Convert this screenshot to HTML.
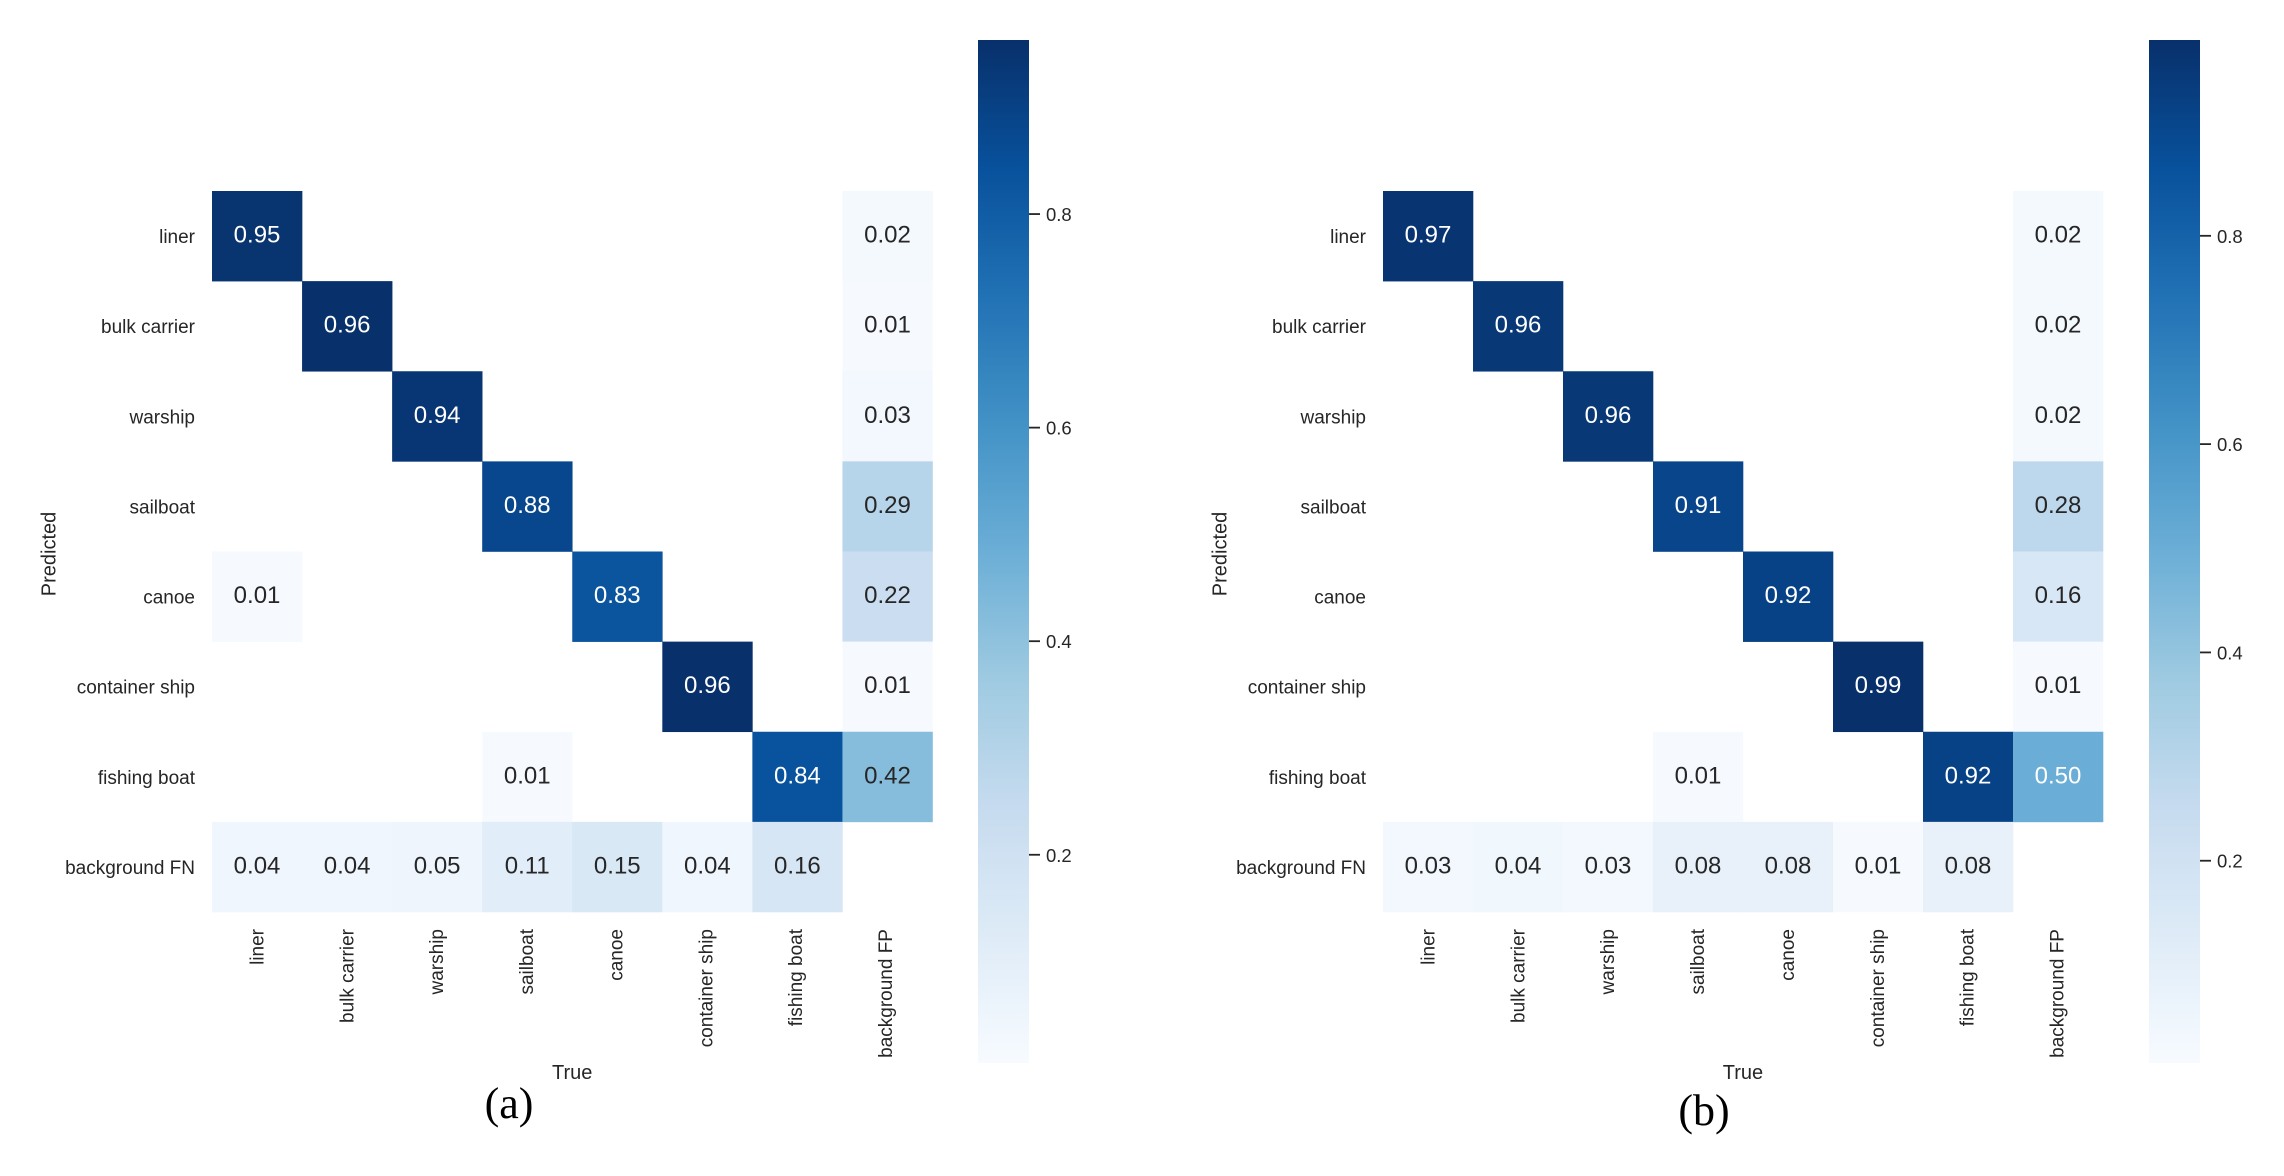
<!DOCTYPE html>
<html lang="en">
<head>
<meta charset="utf-8">
<title>Confusion matrices (a) and (b)</title>
<style>
html,body{margin:0;padding:0;background:#fff;}
body{width:2284px;height:1176px;overflow:hidden;}
svg{display:block;}
text{font-family:"Liberation Sans",Arial,sans-serif;fill:#262626;}
</style>
</head>
<body>
<svg id="chart" xmlns="http://www.w3.org/2000/svg" width="2284" height="1176" viewBox="0 0 2284 1176">
<rect width="2284" height="1176" fill="#ffffff"></rect>
</svg>
<script>
const trueCategories = ["liner","bulk carrier","warship","sailboat","canoe","container ship","fishing boat","background FP"];
const predictedCategories = ["liner","bulk carrier","warship","sailboat","canoe","container ship","fishing boat","background FN"];
const matrixA = [
  [0.95,null,null,null,null,null,null,0.02],
  [null,0.96,null,null,null,null,null,0.01],
  [null,null,0.94,null,null,null,null,0.03],
  [null,null,null,0.88,null,null,null,0.29],
  [0.01,null,null,null,0.83,null,null,0.22],
  [null,null,null,null,null,0.96,null,0.01],
  [null,null,null,0.01,null,null,0.84,0.42],
  [0.04,0.04,0.05,0.11,0.15,0.04,0.16,null]
];
const matrixB = [
  [0.97,null,null,null,null,null,null,0.02],
  [null,0.96,null,null,null,null,null,0.02],
  [null,null,0.96,null,null,null,null,0.02],
  [null,null,null,0.91,null,null,null,0.28],
  [null,null,null,null,0.92,null,null,0.16],
  [null,null,null,null,null,0.99,null,0.01],
  [null,null,null,0.01,null,null,0.92,0.50],
  [0.03,0.04,0.03,0.08,0.08,0.01,0.08,null]
];
const colorbarTicks = [0.8,0.6,0.4,0.2];
const rangeA = [0.005,0.963];
const rangeB = [0.0058,0.988];
const blues = ["#f7fbff","#deebf7","#c6dbef","#9ecae1","#6baed6","#4292c6","#2171b5","#08519c","#08306b"];

const svg = document.getElementById('chart');
const NS = 'http://www.w3.org/2000/svg';

function el(tag, attrs, text){
  const e = document.createElementNS(NS, tag);
  for (const k in attrs) e.setAttribute(k, attrs[k]);
  if (text !== undefined) e.textContent = text;
  return e;
}
function hexToRgb(h){
  return [parseInt(h.slice(1,3),16),parseInt(h.slice(3,5),16),parseInt(h.slice(5,7),16)];
}
function cmap(t){
  const c = Math.max(0,Math.min(1,t))*(blues.length-1);
  const i = Math.min(Math.floor(c),blues.length-2);
  const f = c-i, a = hexToRgb(blues[i]), b = hexToRgb(blues[i+1]);
  return [0,1,2].map(k=>Math.round(a[k]+(b[k]-a[k])*f));
}
function luminance(rgb){
  const l = rgb.map(v=>{v/=255;return v<=0.03928?v/12.92:Math.pow((v+0.055)/1.055,2.4);});
  return 0.2126*l[0]+0.7152*l[1]+0.0722*l[2];
}

function drawPanel(p){
  const g = el('g',{});
  
  
  svg.appendChild(g);

  const cellW = p.width/trueCategories.length;
  const cellH = p.height/predictedCategories.length;
  const xScale = c => p.left + c*cellW;
  const yScale = r => p.top + r*cellH;
  const norm = v => (v-p.range[0])/(p.range[1]-p.range[0]);
  const barY = v => p.barTop + (p.range[1]-v)/(p.range[1]-p.range[0])*(p.barBottom-p.barTop);

  p.matrix.forEach((row,r)=>{
    row.forEach((v,c)=>{
      if (v===null) return;
      const rgb = cmap(norm(v));
      const cell = el('rect',{x:xScale(c),y:yScale(r),width:cellW+0.3,height:cellH+0.3,fill:'rgb('+rgb.join(',')+')'});
      
      
      g.appendChild(cell);
      const color = luminance(rgb) < 0.408 ? '#ffffff' : '#262626';
      const label = el('text',{x:xScale(c)+cellW/2,y:yScale(r)+cellH/2+6.5,'text-anchor':'middle','font-size':24,style:'fill:'+color},v.toFixed(2));
      
      
      g.appendChild(label);
    });
  });

  predictedCategories.forEach((name,r)=>{
    const t = el('text',{x:p.left-17,y:yScale(r)+cellH/2+7,'text-anchor':'end','font-size':19},name);
    
    
    g.appendChild(t);
  });
  trueCategories.forEach((name,c)=>{
    const px = xScale(c)+cellW/2+6.5-c*p.tickDrift, py = p.top+p.height+17;
    const t = el('text',{x:px,y:py,'text-anchor':'end','font-size':19,transform:'rotate(-90 '+px+' '+py+')'},name);
    
    
    g.appendChild(t);
  });

  const xTitle = el('text',{x:p.left+p.width/2,y:1079,'text-anchor':'middle','font-size':20},'True');
  
  
  g.appendChild(xTitle);

  const yx = p.left-156.5, yy = 554;
  const yTitle = el('text',{x:yx,y:yy,'text-anchor':'middle','font-size':20,transform:'rotate(-90 '+yx+' '+yy+')'},'Predicted');
  
  
  g.appendChild(yTitle);

  const gradId = 'grad-'+p.id;
  const grad = el('linearGradient',{id:gradId,x1:0,y1:1,x2:0,y2:0});
  blues.forEach((col,i)=>{
    grad.appendChild(el('stop',{offset:i/(blues.length-1),'stop-color':col}));
  });
  const defs = el('defs',{});
  defs.appendChild(grad);
  g.appendChild(defs);

  const bar = el('rect',{x:p.barX,y:p.barTop,width:p.barW,height:p.barBottom-p.barTop,fill:'url(#'+gradId+')'});
  
  
  g.appendChild(bar);

  colorbarTicks.forEach(v=>{
    const y = barY(v);
    const tick = el('line',{x1:p.barX+p.barW,x2:p.barX+p.barW+11,y1:y,y2:y,stroke:'#262626','stroke-width':1.8});
    
    
    g.appendChild(tick);
    const lab = el('text',{x:p.barX+p.barW+17,y:y+7,'font-size':18.5},v.toFixed(1));
    
    
    g.appendChild(lab);
  });

  const cap = el('text',{x:p.capX,y:p.capY,'text-anchor':'middle','font-size':44,style:'font-family:\'Liberation Serif\',\'Times New Roman\',serif;fill:#000'},p.caption);
  
  
  g.appendChild(cap);
}

drawPanel({id:'a',matrix:matrixA,range:rangeA,left:212,top:191,width:720.5,height:721,tickDrift:0.3,barX:978,barW:51,barTop:40,barBottom:1063,caption:'(a)',capX:509,capY:1118});
drawPanel({id:'b',matrix:matrixB,range:rangeB,left:1383,top:191,width:720,height:721,tickDrift:0.15,barX:2149,barW:51,barTop:40,barBottom:1063,caption:'(b)',capX:1704,capY:1125});
</script>
</body>
</html>
